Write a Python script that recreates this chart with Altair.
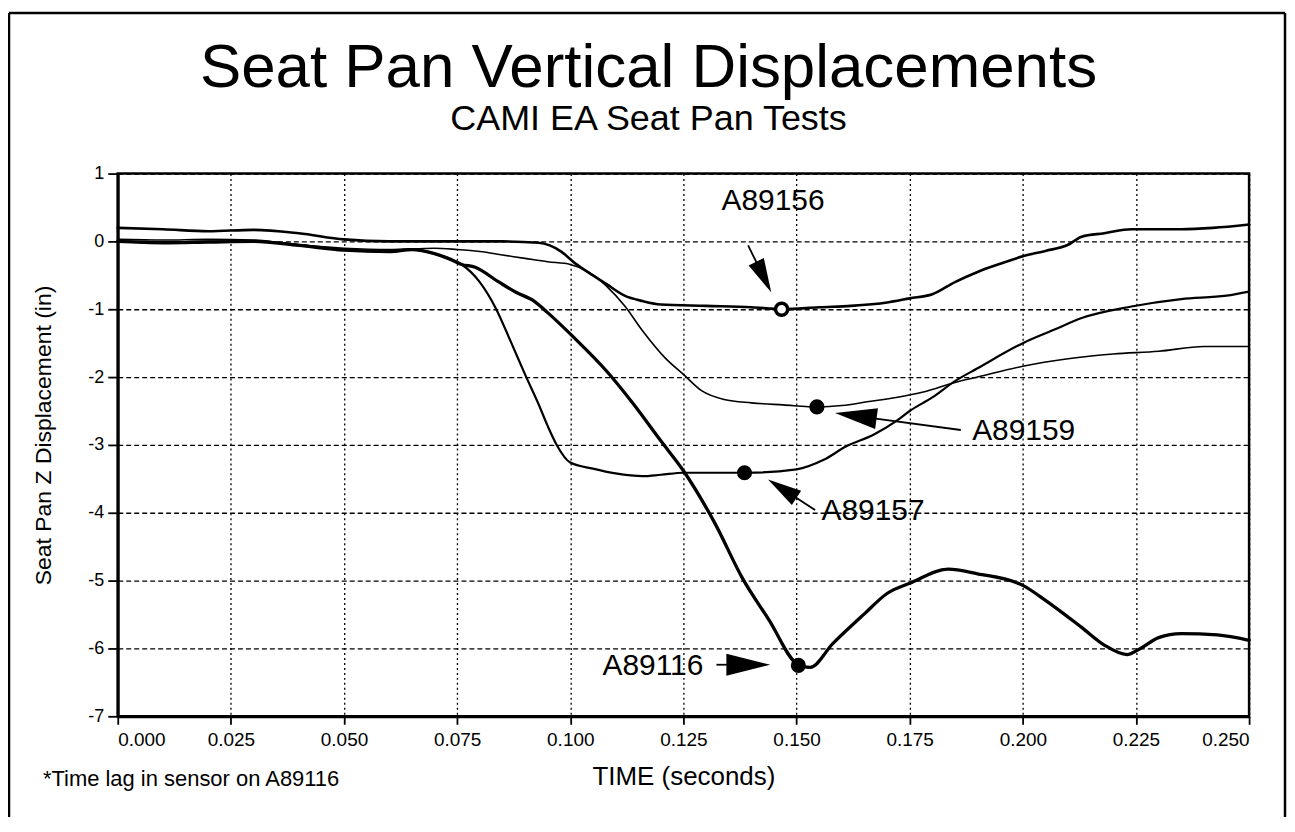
import math
import altair as alt
import pandas as pd

FONT = "Liberation Sans"

# ---------------- data ----------------
series_names = ["A89156", "A89159", "A89157", "A89116"]
series_widths = [2.6, 1.6, 2.2, 3.3]

t_156 = [0.0, 0.01, 0.02, 0.03, 0.04, 0.05, 0.06, 0.075, 0.085, 0.093, 0.098, 0.101, 0.105,
         0.108, 0.112, 0.116, 0.12, 0.13, 0.14, 0.147, 0.155, 0.162, 0.17, 0.175, 0.18, 0.185,
         0.19, 0.195, 0.2, 0.205, 0.21, 0.213, 0.218, 0.224, 0.235, 0.242, 0.25]
v_156 = [0.2, 0.18, 0.15, 0.17, 0.12, 0.03, 0.0, 0.0, 0.0, -0.02, -0.15, -0.32, -0.5,
         -0.63, -0.8, -0.88, -0.93, -0.95, -0.97, -1.0, -0.97, -0.95, -0.9, -0.84, -0.78, -0.6,
         -0.45, -0.33, -0.22, -0.14, -0.05, 0.07, 0.12, 0.18, 0.18, 0.2, 0.25]

t_159 = [0.0, 0.01, 0.02, 0.03, 0.04, 0.05, 0.06, 0.07, 0.075, 0.08, 0.085, 0.09, 0.095, 0.1,
         0.104, 0.108, 0.112, 0.116, 0.121, 0.125, 0.129, 0.134, 0.14, 0.147, 0.155, 0.16,
         0.166, 0.172, 0.178, 0.185, 0.19, 0.2, 0.21, 0.22, 0.23, 0.24, 0.25]
v_159 = [0.03, 0.02, 0.03, 0.02, -0.05, -0.1, -0.12, -0.1, -0.12, -0.15, -0.2, -0.25, -0.3, -0.34,
         -0.45, -0.66, -0.95, -1.32, -1.72, -1.96, -2.2, -2.33, -2.38, -2.41, -2.44, -2.42,
         -2.36, -2.3, -2.22, -2.08, -2.0, -1.84, -1.73, -1.66, -1.62, -1.55, -1.55]

t_157 = [0.0, 0.01, 0.02, 0.03, 0.04, 0.05, 0.06, 0.065, 0.07, 0.073, 0.076, 0.08, 0.0835, 0.087,
         0.09, 0.093, 0.095, 0.097, 0.1, 0.105, 0.11, 0.116, 0.12, 0.125, 0.139, 0.15, 0.156,
         0.161, 0.167, 0.172, 0.175, 0.18, 0.185, 0.19, 0.2, 0.207, 0.213, 0.224, 0.235, 0.245, 0.25]
v_157 = [0.0, -0.02, 0.0, 0.0, -0.05, -0.12, -0.15, -0.12, -0.18, -0.25, -0.34, -0.6, -0.98, -1.5,
         -1.96, -2.4, -2.72, -3.0, -3.26, -3.35, -3.42, -3.46, -3.44, -3.41, -3.41, -3.36, -3.22,
         -3.02, -2.85, -2.65, -2.5, -2.3, -2.06, -1.87, -1.5, -1.3, -1.13, -0.96, -0.85, -0.8, -0.74]

t_116 = [0.0, 0.01, 0.02, 0.03, 0.04, 0.05, 0.06, 0.065, 0.07, 0.073, 0.076, 0.079, 0.084, 0.088,
         0.092, 0.095, 0.101, 0.108, 0.114, 0.12, 0.125, 0.132, 0.138, 0.144, 0.15, 0.153,
         0.158, 0.165, 0.17, 0.175, 0.1835, 0.19, 0.2, 0.205, 0.213, 0.218, 0.223, 0.226, 0.23,
         0.235, 0.243, 0.25]
v_116 = [0.0, -0.02, -0.01, 0.0, -0.06, -0.13, -0.15, -0.12, -0.18, -0.25, -0.34, -0.38, -0.59, -0.75,
         -0.88, -1.05, -1.43, -1.91, -2.4, -2.94, -3.38, -4.16, -4.96, -5.59, -6.22, -6.28,
         -5.93, -5.49, -5.19, -5.04, -4.83, -4.9, -5.07, -5.29, -5.69, -5.95, -6.09, -6.0, -5.84,
         -5.78, -5.8, -5.88]

# marker dots on each curve
marker_t = [0.1467, 0.1545, 0.1385, 0.1504]
marker_v = [-1.0, -2.44, -3.41, -6.25]
marker_open = [True, False, False, False]

# annotation labels and arrows (tail -> tip)
label_text = ["A89156", "A89159", "A89157", "A89116"]
label_t = [0.1448, 0.1888, 0.1555, 0.1294]
label_v = [0.60, -2.80, -3.97, -6.26]
label_align = ["center", "left", "left", "right"]
arrow_tail_t = [0.1393, 0.1863, 0.1541, 0.1323]
arrow_tail_v = [-0.06, -2.78, -3.96, -6.24]
arrow_tip_t = [0.1444, 0.1585, 0.1437, 0.1442]
arrow_tip_v = [-0.75, -2.53, -3.51, -6.24]
arrow_head_len = [34, 42, 34, 44]

x_ticks = [0.000, 0.025, 0.050, 0.075, 0.100, 0.125, 0.150, 0.175, 0.200, 0.225, 0.250]
y_ticks = [-7, -6, -5, -4, -3, -2, -1, 0, 1]

# ---------------- geometry ----------------
W, H = 1134, 544
X_DOM = [0.0, 0.25]
Y_DOM = [-7, 1]
px_t = W / (X_DOM[1] - X_DOM[0])
px_v = H / (Y_DOM[1] - Y_DOM[0])

series_data = {"A89156": (t_156, v_156), "A89159": (t_159, v_159),
               "A89157": (t_157, v_157), "A89116": (t_116, v_116)}

markers_df = pd.DataFrame({"series": series_names, "t": marker_t, "v": marker_v, "open": marker_open})

arrows = []
for i in range(len(label_text)):
    hl = arrow_head_len[i]
    dx = (arrow_tip_t[i] - arrow_tail_t[i]) * px_t
    dy = -(arrow_tip_v[i] - arrow_tail_v[i]) * px_v
    L = math.hypot(dx, dy)
    ux, uy = dx / L, dy / L
    ang = math.degrees(math.atan2(ux, -uy)) % 360
    cx = arrow_tip_t[i] - ux * hl / 2 / px_t
    cy = arrow_tip_v[i] + uy * hl / 2 / px_v
    bx = arrow_tip_t[i] - ux * hl * 0.8 / px_t
    by = arrow_tip_v[i] + uy * hl * 0.8 / px_v
    arrows.append({"t0": arrow_tail_t[i], "v0": arrow_tail_v[i], "t1": bx, "v1": by,
                   "hc_t": cx, "hc_v": cy, "angle": ang, "size": hl * hl})
arrows_df = pd.DataFrame(arrows)
labels_df = pd.DataFrame({"text": label_text, "t": label_t, "v": label_v, "align": label_align})

xs = alt.Scale(domain=X_DOM, nice=False, zero=False)
ys = alt.Scale(domain=Y_DOM, nice=False, zero=False)

x_enc = alt.X("t:Q", scale=xs,
              axis=alt.Axis(values=x_ticks, format=".3f", title="TIME (seconds)",
                            titleX=567, titleY=68, titleBaseline="alphabetic",
                            titleAlign="center", titleFontSize=26))
y_enc = alt.Y("v:Q", scale=ys,
              axis=alt.Axis(values=y_ticks, labelExpr="'' + datum.value",
                            title="Seat Pan Z Displacement (in)",
                            titleX=-74, titleY=262, titleAngle=270, titleAlign="center",
                            titleBaseline="middle", titleFontSize=23))

line_layers = []
for k, (name, sw) in enumerate(zip(series_names, series_widths)):
    ts, vs = series_data[name]
    df = pd.DataFrame({"t": ts, "v": vs, "series": name})
    enc_x = x_enc if k == 0 else alt.X("t:Q", scale=xs)
    enc_y = y_enc if k == 0 else alt.Y("v:Q", scale=ys)
    line_layers.append(
        alt.Chart(df).mark_line(color="black", strokeWidth=sw, interpolate="monotone",
                                strokeJoin="round", strokeCap="round").encode(x=enc_x, y=enc_y))

dots_filled = alt.Chart(markers_df).transform_filter("!datum.open").mark_circle(
    color="black", size=230, opacity=1).encode(
    x=alt.X("t:Q", scale=xs), y=alt.Y("v:Q", scale=ys))
dots_open = alt.Chart(markers_df).transform_filter("datum.open").mark_point(
    shape="circle", stroke="black", fill="white", filled=False, strokeWidth=3.5,
    size=150, opacity=1).encode(
    x=alt.X("t:Q", scale=xs), y=alt.Y("v:Q", scale=ys))

arrow_lines = alt.Chart(arrows_df).mark_rule(color="black", strokeWidth=1.8).encode(
    x=alt.X("t0:Q", scale=xs), y=alt.Y("v0:Q", scale=ys),
    x2="t1:Q", y2="v1:Q")
arrow_heads = alt.Chart(arrows_df).mark_point(
    shape="M0,-1L0.5,1L-0.5,1Z", filled=True, color="black", opacity=1).encode(
    x=alt.X("hc_t:Q", scale=xs), y=alt.Y("hc_v:Q", scale=ys),
    angle=alt.Angle("angle:Q", scale=None),
    size=alt.Size("size:Q", scale=None))

label_layers = []
for al in ["center", "left", "right"]:
    label_layers.append(
        alt.Chart(labels_df).transform_filter(f"datum.align == '{al}'").mark_text(
            font=FONT, fontSize=30, color="black", align=al, baseline="middle").encode(
            x=alt.X("t:Q", scale=xs), y=alt.Y("v:Q", scale=ys), text="text:N"))

# titles, footnote and page frame (pixel placement relative to plot area)
title_df = pd.DataFrame({"text": ["Seat Pan Vertical Displacements"]})
sub_df = pd.DataFrame({"text": ["CAMI EA Seat Pan Tests"]})
foot_df = pd.DataFrame({"text": ["*Time lag in sensor on A89116"]})
title = alt.Chart(title_df).mark_text(font=FONT, fontSize=62, color="black",
                                      align="center", baseline="alphabetic").encode(
    x=alt.value(532), y=alt.value(-87), text="text:N")
subtitle = alt.Chart(sub_df).mark_text(font=FONT, fontSize=36, color="black",
                                       align="center", baseline="alphabetic").encode(
    x=alt.value(532), y=alt.value(-44), text="text:N")
foot = alt.Chart(foot_df).mark_text(font=FONT, fontSize=22, color="black",
                                    align="left", baseline="alphabetic").encode(
    x=alt.value(-75), y=alt.value(614), text="text:N")

frame_df = pd.DataFrame({"k": ["left", "top", "right"]})
frame_left = alt.Chart(frame_df).transform_filter("datum.k == 'left'").mark_rule(
    color="black", strokeWidth=2.5).encode(x=alt.value(-109), y=alt.value(-161), y2=alt.value(700))
frame_top = alt.Chart(frame_df).transform_filter("datum.k == 'top'").mark_rule(
    color="black", strokeWidth=2.5).encode(x=alt.value(-109), x2=alt.value(1170), y=alt.value(-161))
frame_right = alt.Chart(frame_df).transform_filter("datum.k == 'right'").mark_rule(
    color="black", strokeWidth=2.5).encode(x=alt.value(1170), y=alt.value(-161), y2=alt.value(700))

chart = alt.layer(
    *line_layers, arrow_lines, arrow_heads, dots_filled, dots_open, *label_layers,
    title, subtitle, foot, frame_left, frame_top, frame_right
).properties(
    width=W, height=H,
    padding={"left": 110, "top": 165, "right": 38, "bottom": 100},
    autosize=alt.AutoSizeParams(type="none"),
    background="white",
).configure_view(
    stroke="black", strokeWidth=2.5
).configure_axis(
    labelFont=FONT, titleFont=FONT, labelColor="black", titleColor="black",
    titleFontWeight="normal", domainColor="black", tickColor="black",
    gridColor="black", gridOpacity=1, gridWidth=1.3, domainWidth=3, tickWidth=1.8,
).configure_axisX(
    gridDash=[2, 3], labelFontSize=19, tickSize=8, labelPadding=6,
).configure_axisY(
    gridDash=[5, 3], labelFontSize=18, tickSize=10, labelPadding=4,
)

chart.save("out.html", embed_options={"renderer": "svg", "actions": False})
